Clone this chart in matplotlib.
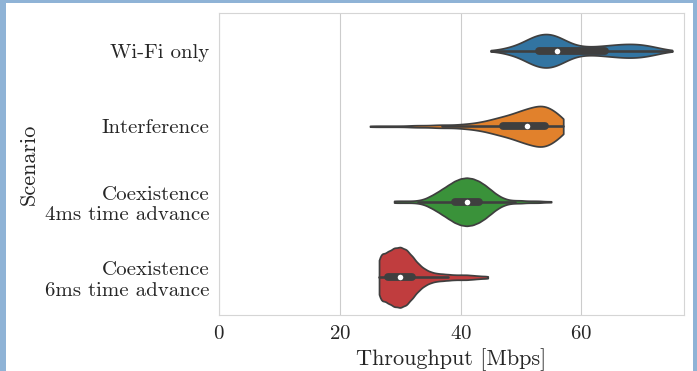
import numpy as np
import pandas as pd
import matplotlib
matplotlib.use("Agg")
import matplotlib.pyplot as plt
from matplotlib.patches import Rectangle
from matplotlib.collections import PolyCollection
import seaborn as sns

# throughput samples (Mbps), given as value / count pairs
scenarios = ["Wi-Fi only", "Interference",
             "Coexistence\n4ms time advance", "Coexistence\n6ms time advance"]

wifi_vals = np.arange(45, 76)
wifi_cnt = [1, 2, 4, 7, 10, 15, 21, 27, 31, 33, 32, 28, 22, 16, 11, 9,
            8, 8, 9, 10, 11, 12, 13, 13, 13, 12, 10, 8, 5, 3, 1]

intf_vals = np.arange(25, 58)
intf_cnt = [1, 1, 1, 1, 1, 1, 1, 2, 2, 2, 2, 3, 3, 3, 3, 4, 5, 6, 8, 10,
            13, 16, 19, 22, 26, 30, 34, 37, 40, 39, 34, 25, 16]

coex4_vals = np.arange(29, 56)
coex4_cnt = [2, 2, 2, 2, 3, 6, 12, 19, 27, 35, 43, 48, 50, 48, 43, 35, 25,
             15, 8, 4, 3, 3, 2, 2, 2, 1, 1]

coex6_vals = [26.5, 27, 28, 29, 30, 31, 32, 33, 34, 35, 36, 37, 38, 39, 40,
              41, 42, 43, 44, 44.5]
coex6_cnt = [18, 42, 52, 59, 61, 56, 42, 27, 17, 11, 8, 7, 6, 5, 5, 5, 4,
             3, 2, 1]

samples = [np.repeat(wifi_vals, wifi_cnt), np.repeat(intf_vals, intf_cnt),
           np.repeat(coex4_vals, coex4_cnt), np.repeat(coex6_vals, coex6_cnt)]
df = pd.concat([pd.DataFrame({"Scenario": s, "Throughput": v})
                for s, v in zip(scenarios, samples)], ignore_index=True)

sns.set_style("whitegrid")
plt.rcParams["font.family"] = "serif"
plt.rcParams["font.serif"] = ["cmr10"]
plt.rcParams["mathtext.fontset"] = "cm"
plt.rcParams["axes.formatter.use_mathtext"] = True

fig = plt.figure(figsize=(6.97, 3.71), dpi=100, facecolor="#8fb3d6")
fig.patches.append(Rectangle((6 / 697, 0), 687 / 697, 368 / 371,
                             transform=fig.transFigure, facecolor="white",
                             edgecolor="none", zorder=-1))
ax = fig.add_axes([219 / 697, 56 / 371, 465 / 697, 302 / 371])

# one call without hue so all violins share the same area scaling
sns.violinplot(data=df, x="Throughput", y="Scenario", order=scenarios,
               color="C0", cut=0, inner="box", bw_adjust=0.5,
               density_norm="area", inner_kws=dict(marker="o"), ax=ax)

colors = sns.color_palette("tab10", 4, desat=0.75)
polys = [c for c in ax.collections if isinstance(c, PolyCollection)]
for poly, col in zip(polys, colors):
    poly.set_facecolor(col)
for ln in ax.lines:
    if ln.get_marker() == "o":
        ln.set_markersize(4)
        ln.set_markeredgewidth(0)
        ln.set_markerfacecolor("white")

ax.set_xlim(0, 77)
ax.set_xticks([0, 20, 40, 60])
ax.set_xlabel("Throughput [Mbps]", fontsize=16)
ax.set_ylabel("Scenario", fontsize=16)
ax.tick_params(labelsize=15)
for s in ax.spines.values():
    s.set_color("#d5d5d5")

fig.savefig("out.png", dpi=100)
